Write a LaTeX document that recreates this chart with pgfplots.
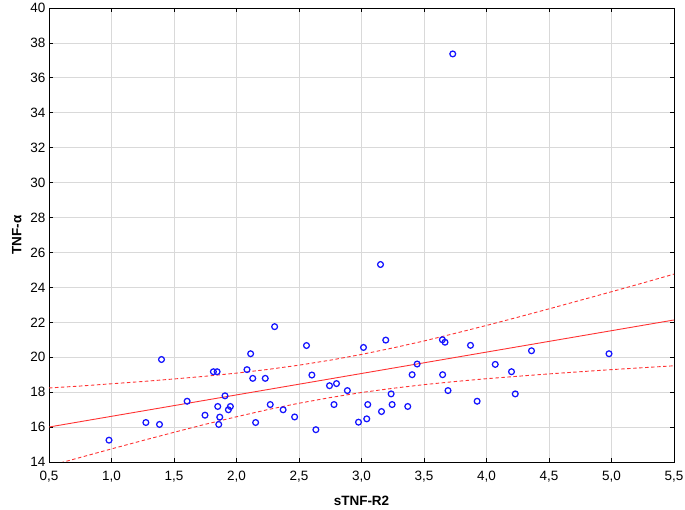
\documentclass[border=0pt]{standalone}
\usepackage{pgfplots}
\pgfplotsset{compat=1.18}
\usetikzlibrary{calc}
\usepackage{fontspec}
\setmainfont{Liberation Sans}
\definecolor{ptblue}{RGB}{20,20,255}
\definecolor{fitred}{RGB}{255,50,50}
\begin{document}
\begin{tikzpicture}
\begin{axis}[
  scale only axis,
  width=625pt, height=454pt,
  xmin=0.5, xmax=5.5, ymin=14, ymax=40,
  xtick={0.5,1,...,5.5},
  ytick={14,16,...,40},
  xticklabels={{0,5},{1,0},{1,5},{2,0},{2,5},{3,0},{3,5},{4,0},{4,5},{5,0},{5,5}},
  /pgf/number format/assume math mode=true,
  tick label style={font=\fontsize{13.5}{15}\selectfont, black},
  xticklabel style={yshift=-6pt},
  label style={font=\fontsize{13.5}{15}\selectfont\bfseries},
  xlabel={sTNF-R2},
  ylabel={TNF-α},
  xlabel style={yshift=-7pt},
  ylabel style={yshift=2pt},
  grid=major,
  grid style={gray!30, line width=0.8pt},
  axis line style={black, line width=0.9pt},
  tick style={black, line width=0.8pt},
  major tick length=4pt,
  tick align=inside,
  clip=true,
]
\addplot[only marks, mark=o, mark size=2.9pt, mark options={ptblue, line width=1.25pt}] coordinates {
(0.98,15.25) (1.275,16.26) (1.384,16.15) (1.40,19.87) (1.605,17.48)
(1.748,16.68) (1.815,19.17) (1.845,19.17) (1.85,17.18) (1.866,16.57)
(1.858,16.15) (1.908,17.79) (1.935,16.99) (1.951,17.18) (2.084,19.29)
(2.113,20.20) (2.13,18.79) (2.153,16.26) (2.23,18.79) (2.27,17.29)
(2.305,21.75) (2.373,16.99) (2.465,16.58) (2.56,20.67) (2.603,18.98)
(2.635,15.85) (2.744,18.37) (2.80,18.49) (2.78,17.29) (2.887,18.09)
(2.976,16.28) (3.016,20.56) (3.042,16.47) (3.05,17.29) (3.16,16.89)
(3.194,20.98) (3.237,17.90) (3.245,17.29) (3.37,17.18) (3.405,19.00)
(3.445,19.61) (3.647,21.00) (3.668,20.86) (3.649,19.00) (3.692,18.09)
(3.872,20.68) (3.925,17.48) (4.07,19.59) (4.20,19.17) (4.23,17.90)
(4.36,20.37) (4.98,20.20) (3.152,25.31) (3.73,37.37)
};
\addplot[fitred, line width=0.9pt] coordinates {(0.5,16.003) (5.5,22.133)};
\addplot[fitred, line width=0.9pt, dash pattern=on 3.5pt off 2.5pt] coordinates {
(0.5,18.24) (0.75,18.35) (1.0,18.48) (1.25,18.61) (1.5,18.755) (1.75,18.91)
(2.0,19.09) (2.25,19.30) (2.5,19.545) (2.75,19.83) (3.0,20.16) (3.25,20.53)
(3.5,20.93) (3.75,21.37) (4.0,21.82) (4.25,22.29) (4.5,22.77) (4.75,23.26)
(5.0,23.75) (5.25,24.25) (5.5,24.76)
};
\addplot[fitred, line width=0.9pt, dash pattern=on 3.5pt off 2.5pt] coordinates {
(0.5,13.77) (0.75,14.26) (1.0,14.75) (1.25,15.23) (1.5,15.70) (1.75,16.16)
(2.0,16.59) (2.25,17.00) (2.5,17.365) (2.75,17.69) (3.0,17.98) (3.25,18.22)
(3.5,18.43) (3.75,18.61) (4.0,18.77) (4.25,18.91) (4.5,19.045) (4.75,19.17)
(5.0,19.29) (5.25,19.40) (5.5,19.51)
};
\end{axis}
\pgfresetboundingbox
\path[use as bounding box] ($(current axis.south west)+(-49pt,-48pt)$) rectangle ($(current axis.north east)+(11pt,8pt)$);
\end{tikzpicture}
\end{document}
